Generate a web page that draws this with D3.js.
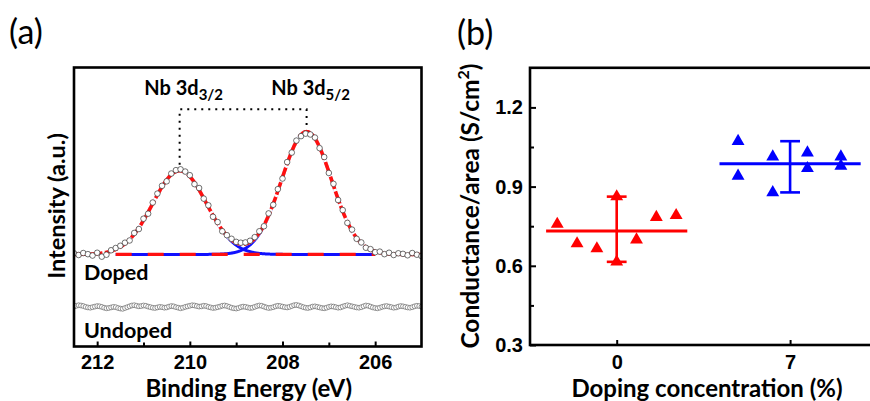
<!DOCTYPE html>
<html>
<head>
<meta charset="utf-8">
<script src="https://cdn.jsdelivr.net/npm/d3@7"></script>
<style>
  body { margin: 0; background: #fff; }
  svg { display: block; font-family: Lato, "Open Sans", sans-serif; }
  .bold { font-weight: 700; }
</style>
</head>
<body>
<script>
// ---------- (a) Nb 3d XPS spectra ----------
// measured points, binding energy from 212.5 eV downwards
const dopedStartEV = 212.5, dopedStepEV = 0.1;
const dopedIntensity = [
  33.4, 32.8, 33.5, 33.1, 32.6, 33.6, 32.2, 32.9, 34.5, 35.3,
  36.1, 37.2, 38.0, 40.7, 42.1, 45.8, 47.6, 51.6, 54.8, 57.6,
  59.2, 62.0, 63.2, 63.5, 62.7, 61.4, 58.2, 56.8, 53.0, 50.6,
  46.5, 44.6, 41.3, 39.9, 38.6, 37.5, 37.2, 37.3, 37.9, 39.2,
  41.3, 43.1, 47.7, 50.8, 56.4, 60.2, 66.1, 69.5, 73.8, 75.4,
  76.3, 76.0, 74.9, 71.1, 67.9, 62.2, 58.3, 52.5, 48.9, 44.3,
  41.9, 38.6, 37.3, 35.4, 34.9, 33.8, 34.0, 33.1, 33.6, 32.8,
  33.4, 33.2, 32.7, 33.5, 32.9, 32.4
];
const undopedStartEV = 212.5, undopedStepEV = 0.05;
const undopedIntensity = [
  14.3, 14.6, 14.8, 14.7, 14.5, 14.2, 14.0, 13.9, 14.1, 14.3,
  14.5, 14.4, 14.2, 13.9, 13.7, 13.8, 14.0, 14.2, 14.1, 13.8,
  13.6, 13.5, 13.8, 14.1, 14.4, 14.7, 14.8, 14.6, 14.4, 14.5,
  14.7, 14.6, 14.3, 14.1, 13.9, 13.8, 14.0, 14.2, 14.1, 13.9,
  14.0, 14.3, 14.5, 14.4, 14.1, 13.9, 13.7, 13.9, 14.2, 14.4,
  14.6, 14.8, 14.7, 14.5, 14.3, 14.4, 14.6, 14.5, 14.2, 14.0,
  13.8, 13.9, 14.1, 14.3, 14.6, 14.7, 14.5, 14.2, 13.9, 13.7,
  13.6, 13.8, 14.1, 14.3, 14.2, 14.0, 13.8, 13.9, 14.2, 14.5,
  14.7, 14.6, 14.3, 14.0, 13.8, 13.9, 14.1, 14.4, 14.6, 14.5,
  14.3, 14.1, 14.0, 14.2, 14.5, 14.8, 14.9, 14.7, 14.4, 14.1,
  13.9, 13.8, 14.0, 14.3, 14.4, 14.2, 14.0, 13.8, 13.7, 13.9,
  14.2, 14.4, 14.3, 14.1, 13.9, 14.0, 14.3, 14.6, 14.8, 14.6,
  14.4, 14.2, 14.0, 13.9, 14.1, 14.4, 14.7, 14.6, 14.3, 14.0,
  13.8, 13.7, 13.9, 14.2, 14.4, 14.5, 14.3, 14.1, 13.9, 14.0,
  14.3, 14.5, 14.4, 14.2, 14.0, 13.9, 14.1, 14.4, 14.6, 14.5,
  14.3
];
// Gaussian fit of the doped spectrum
const peakNames   = ["3/2", "5/2"];
const peakCenters = [210.22, 207.48];   // eV
const peakFwhm    = [1.37, 1.27];       // eV
const peakHeights = [30, 44];           // above background
const fitBackground = 33;
const fitRange = [211.6, 206.0];
const energyTicks = [212, 210, 208, 206];
const energyMinorTicks = [211, 209, 207];

// ---------- (b) conductance per area ----------
const dopingLevels = [0, 7];
const conductance = [
  [0.758, 0.684, 0.665, 0.862, 0.615, 0.699, 0.784, 0.791],
  [1.072, 0.940, 1.013, 0.878, 1.028, 0.969, 1.013, 0.978]
];
const spread = [
  [-2.4, -1.6, -0.8, 0, 0, 0.8, 1.6, 2.4],
  [-2.1, -2.1, -0.7, -0.7, 0.7, 0.7, 2.05, 2.05]
];
const groupColors = ["#ff0000", "#0000ff"];
const conductanceTicks = [0.3, 0.6, 0.9, 1.2];
const conductanceMinorTicks = [0.45, 0.75, 1.05];

const W = 870, H = 401;
const svg = d3.select("body").append("svg").attr("width", W).attr("height", H);

// ================= panel (a) =================
const ax = { l: 74, r: 421.5, t: 67.5, b: 346.5 };
const xA = d3.scaleLinear().domain([212.5, 205]).range([ax.l, ax.r]);
const yA = d3.scaleLinear().domain([0, 100]).range([ax.b, ax.t]);
const gA = svg.append("g");

const gauss = (e, k) => {
  const s = peakFwhm[k] / (2 * Math.sqrt(2 * Math.log(2)));
  return peakHeights[k] * Math.exp(-((e - peakCenters[k]) ** 2) / (2 * s * s));
};
const fine = d3.range(0, 751).map(i => 212.5 - i * 0.01);
const inFit = fine.filter(e => e <= fitRange[0] + 1e-9 && e >= fitRange[1] - 1e-9);
const line = d3.line().x(d => xA(d[0])).y(d => yA(d[1]));

svg.append("clipPath").attr("id", "clipA")
  .append("rect").attr("x", ax.l).attr("y", ax.t).attr("width", ax.r - ax.l).attr("height", ax.b - ax.t);
const plotA = gA.append("g").attr("clip-path", "url(#clipA)");

// fitted components
peakNames.forEach((_, k) => {
  plotA.append("path")
    .attr("d", line(inFit.map(e => [e, fitBackground + gauss(e, k)])))
    .attr("fill", "none").attr("stroke", "#1010ff").attr("stroke-width", 3);
});
// background under the fit
plotA.append("path")
  .attr("d", line(inFit.map(e => [e, fitBackground])))
  .attr("fill", "none").attr("stroke", "#ff1010").attr("stroke-width", 3.2)
  .attr("stroke-dasharray", "16,16");
// envelope (sum of components); kept off the flat background inside the fit window
const envelope = fine
  .map(e => [e, fitBackground + gauss(e, 0) + gauss(e, 1)])
  .filter(d => d[1] - fitBackground > 0.6 || d[0] > fitRange[0] || d[0] < fitRange[1]);
plotA.append("path").attr("d", line(envelope))
  .attr("fill", "none").attr("stroke", "#fff").attr("stroke-width", 3.6);
plotA.append("path").attr("d", line(envelope))
  .attr("fill", "none").attr("stroke", "#ff1010").attr("stroke-width", 3.6)
  .attr("stroke-dasharray", "13,2.5");

// measured points
const dopedPts = dopedIntensity.map((v, i) => [dopedStartEV - i * dopedStepEV, v]);
const undopedPts = undopedIntensity.map((v, i) => [undopedStartEV - i * undopedStepEV, v]);
plotA.selectAll("circle.dp").data(dopedPts).join("circle").attr("class", "dp")
  .attr("cx", d => xA(d[0])).attr("cy", d => yA(d[1])).attr("r", 2.8)
  .attr("fill", "#fff").attr("stroke", "#333").attr("stroke-width", 0.7);
plotA.selectAll("circle.up").data(undopedPts).join("circle").attr("class", "up")
  .attr("cx", d => xA(d[0])).attr("cy", d => yA(d[1])).attr("r", 2.4)
  .attr("fill", "#fff").attr("stroke", "#666").attr("stroke-width", 0.7);

// dotted bracket joining the two peaks
const bracketLevel = 85;
const peakTop = k => fitBackground + peakHeights[k];
const bx = peakCenters.map(c => xA(c));
gA.append("path")
  .attr("d", `M${bx[0]},${yA(peakTop(0)) - 6} V${yA(bracketLevel)} H${bx[1]} V${yA(peakTop(1)) - 4}`)
  .attr("fill", "none").attr("stroke", "#000").attr("stroke-width", 2)
  .attr("stroke-dasharray", "2,5");

peakNames.forEach((n, k) => {
  const t = gA.append("text").attr("class", "bold")
    .attr("x", bx[k] + 4).attr("y", 95).attr("text-anchor", "middle")
    .attr("font-size", 20);
  t.append("tspan").text("Nb 3d");
  t.append("tspan").text(n).attr("font-size", 15).attr("dy", 5);
});

gA.append("text").attr("class", "bold").attr("x", 84).attr("y", 280)
  .attr("font-size", 21.5).text("Doped");
gA.append("text").attr("class", "bold").attr("x", 84).attr("y", 338)
  .attr("font-size", 21.5).text("Undoped");

// frame and axis
gA.append("rect").attr("x", ax.l).attr("y", ax.t).attr("width", ax.r - ax.l).attr("height", ax.b - ax.t)
  .attr("fill", "none").attr("stroke", "#000").attr("stroke-width", 2.6);
const axisA = gA.append("g").attr("transform", `translate(0,${ax.b})`)
  .call(d3.axisBottom(xA).tickValues(energyTicks).tickFormat(d3.format("d")).tickSize(-5).tickPadding(8.3));
gA.append("g").attr("transform", `translate(0,${ax.b})`)
  .call(d3.axisBottom(xA).tickValues(energyMinorTicks).tickFormat("").tickSize(-4))
  .call(g => g.select(".domain").remove());
axisA.select(".domain").remove();
axisA.selectAll("text").attr("class", "bold").attr("font-size", 20).attr("font-family", null).attr("fill", "#000");
gA.selectAll(".tick line").attr("stroke", "#000").attr("stroke-width", 2);

gA.append("text").attr("class", "bold").attr("x", (ax.l + ax.r) / 2 + 1).attr("y", 396.8)
  .attr("text-anchor", "middle").attr("font-size", 24).text("Binding Energy (eV)");
gA.append("text").attr("class", "bold")
  .attr("transform", `translate(65,206) rotate(-90)`)
  .attr("text-anchor", "middle").attr("font-size", 23.5).text("Intensity (a.u.)");
svg.append("text").attr("x", 9).attr("y", 44).attr("font-size", 34).text("(a)");

// ================= panel (b) =================
const bx0 = 530, by = { t: 67.8, b: 345 };
const xB = d3.scaleLinear().domain([-3.5, 10.5]).range([bx0, bx0 + 14 * 24.77]);
const yB = d3.scaleLinear().domain([0.3, 1.35]).range([by.b, by.t]);
const gB = svg.append("g");

gB.append("rect").attr("x", bx0).attr("y", by.t).attr("width", xB(10.5) - bx0).attr("height", by.b - by.t)
  .attr("fill", "none").attr("stroke", "#000").attr("stroke-width", 2.6);

const axY = gB.append("g").attr("transform", `translate(${bx0},0)`)
  .call(d3.axisLeft(yB).tickValues(conductanceTicks).tickFormat(d3.format(".1f")).tickSize(-6).tickPadding(7));
gB.append("g").attr("transform", `translate(${bx0},0)`)
  .call(d3.axisLeft(yB).tickValues(conductanceMinorTicks).tickFormat("").tickSize(-4))
  .call(g => g.select(".domain").remove());
const axX = gB.append("g").attr("transform", `translate(0,${by.b})`)
  .call(d3.axisBottom(xB).tickValues(dopingLevels).tickFormat(d3.format("d")).tickSize(-5).tickPadding(9.8));
[axY, axX].forEach(a => {
  a.select(".domain").remove();
  a.selectAll("text").attr("class", "bold").attr("font-size", 20).attr("font-family", null).attr("fill", "#000");
});
gB.selectAll(".tick line").attr("stroke", "#000").attr("stroke-width", 2);

const tri = d3.symbol().type(d3.symbolTriangle).size(72);
dopingLevels.forEach((lvl, k) => {
  const vals = conductance[k];
  const mean = d3.mean(vals);
  const [lo, hi] = d3.extent(vals);
  const col = groupColors[k];
  const g = gB.append("g");
  g.append("line").attr("x1", xB(lvl - 2.85)).attr("x2", xB(lvl + 2.85))
    .attr("y1", yB(mean)).attr("y2", yB(mean)).attr("stroke", col).attr("stroke-width", 3);
  g.append("line").attr("x1", xB(lvl)).attr("x2", xB(lvl))
    .attr("y1", yB(lo)).attr("y2", yB(hi)).attr("stroke", col).attr("stroke-width", 2.6);
  [lo, hi].forEach(v => g.append("line")
    .attr("x1", xB(lvl - 0.4)).attr("x2", xB(lvl + 0.4))
    .attr("y1", yB(v)).attr("y2", yB(v)).attr("stroke", col).attr("stroke-width", 2.6));
  g.selectAll("path.pt").data(vals).join("path").attr("class", "pt")
    .attr("d", tri)
    .attr("transform", (v, i) => `translate(${xB(lvl + spread[k][i])},${yB(v)})`)
    .attr("fill", col);
});

gB.append("text").attr("class", "bold").attr("x", 707).attr("y", 396.8)
  .attr("text-anchor", "middle").attr("font-size", 24).text("Doping concentration (%)");
const yl = gB.append("text").attr("class", "bold")
  .attr("transform", `translate(479,206) rotate(-90)`)
  .attr("text-anchor", "middle").attr("font-size", 24.5);
yl.append("tspan").text("Conductance/area (S/cm");
yl.append("tspan").text("2").attr("font-size", 16).attr("dy", -10);
yl.append("tspan").text(")").attr("dy", 10);
svg.append("text").attr("x", 457).attr("y", 45).attr("font-size", 34).text("(b)");
</script>
</body>
</html>
